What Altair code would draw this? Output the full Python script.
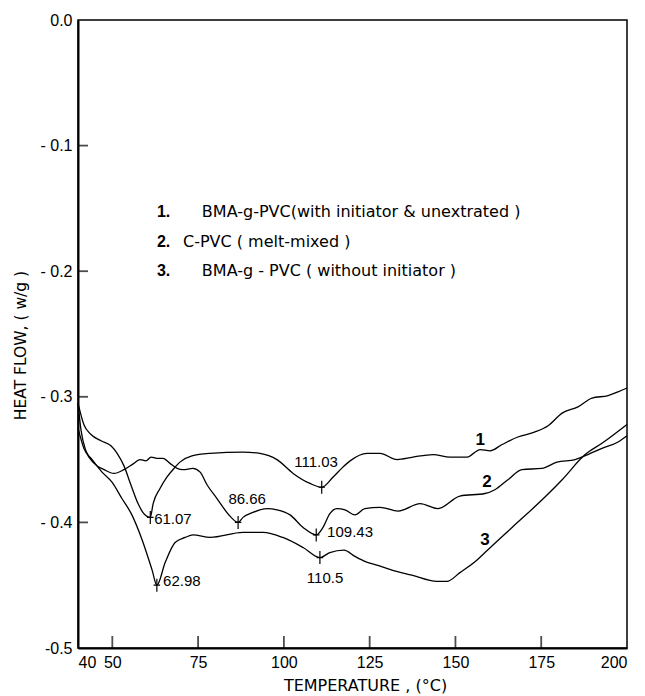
import altair as alt
import pandas as pd

# ---------------- data ----------------
# Curve 1: BMA-g-PVC (with initiator & unextracted)
x1 = [40.0, 41.7, 43.8, 46.7, 49.6, 51.4, 53.4, 55.4, 57.5, 58.9, 61.07, 61.9, 63.9, 65.9, 68.3, 69.7,
      73.2, 78.5, 88.1, 93.0, 98.0, 102.7, 107.6, 111.03, 114.3, 117.2, 119.3, 124.2, 128.0, 133.0,
      137.6, 143.5, 148.4, 153.4, 157.2, 160.1, 163.6, 168.2, 173.2, 177.0, 181.1, 185.7, 189.8,
      194.5, 197.4, 200.0]
y1 = [-0.305, -0.322, -0.330, -0.335, -0.339, -0.345, -0.355, -0.370, -0.385, -0.392, -0.396, -0.385,
      -0.373, -0.364, -0.356, -0.352, -0.347, -0.345, -0.344, -0.345, -0.350, -0.361, -0.369, -0.372,
      -0.364, -0.356, -0.351, -0.345, -0.345, -0.350, -0.348, -0.346, -0.348, -0.348, -0.342, -0.343,
      -0.338, -0.332, -0.328, -0.323, -0.313, -0.308, -0.301, -0.299, -0.296, -0.293]

# Curve 2: C-PVC (melt-mixed)
x2 = [40.0, 40.9, 42.3, 44.7, 47.6, 50.5, 53.4, 56.3, 58.1, 59.8, 61.3, 63.0, 64.8, 66.8, 68.9, 70.6,
      73.5, 75.6, 77.6, 80.5, 84.3, 86.66, 88.1, 91.0, 95.1, 98.0, 101.8, 105.6, 109.43, 111.4, 113.4,
      115.5, 117.8, 120.7, 123.6, 128.0, 133.3, 139.7, 144.9, 151.3, 158.6, 161.5, 165.3, 169.4,
      175.2, 179.6, 184.9, 188.6, 192.7, 197.4, 200.0]
y2 = [-0.305, -0.327, -0.343, -0.353, -0.358, -0.361, -0.358, -0.353, -0.350, -0.351, -0.348, -0.349,
      -0.349, -0.353, -0.357, -0.358, -0.357, -0.360, -0.370, -0.381, -0.395, -0.400, -0.396, -0.392,
      -0.389, -0.390, -0.394, -0.404, -0.410, -0.404, -0.393, -0.389, -0.390, -0.394, -0.389, -0.388,
      -0.391, -0.385, -0.389, -0.379, -0.377, -0.374, -0.366, -0.358, -0.357, -0.352, -0.350, -0.346,
      -0.341, -0.336, -0.331]

# Curve 3: BMA-g-PVC (without initiator)
x3 = [40.0, 41.7, 44.1, 47.0, 49.9, 52.8, 55.7, 58.7, 61.6, 62.98, 65.4, 68.3, 71.2, 73.5, 78.5, 88.1,
      93.9, 99.7, 105.6, 110.5, 113.4, 117.5, 120.7, 123.6, 127.1, 131.5, 137.3, 144.6, 147.5, 151.3,
      156.3, 158.6, 166.5, 174.1, 181.1, 187.8, 192.7, 200.0]
y3 = [-0.325, -0.341, -0.350, -0.360, -0.368, -0.381, -0.394, -0.414, -0.438, -0.450, -0.432, -0.416,
      -0.412, -0.410, -0.412, -0.408, -0.408, -0.412, -0.420, -0.428, -0.424, -0.422, -0.427, -0.431,
      -0.434, -0.438, -0.442, -0.447, -0.447, -0.440, -0.430, -0.424, -0.404, -0.385, -0.366, -0.346,
      -0.337, -0.322]

# marked peaks
peak_x = [61.07, 62.98, 86.66, 109.43, 110.5, 111.03]
peak_y = [-0.396, -0.450, -0.400, -0.410, -0.428, -0.372]
peak_text = ["61.07", "62.98", "86.66", "109.43", "110.5", "111.03"]
peak_text_x = [62.2, 64.8, 89.3, 112.6, 112.0, 109.4]
peak_text_y = [-0.397, -0.447, -0.381, -0.408, -0.444, -0.352]
peak_align = ["left", "left", "center", "left", "center", "center"]

# curve numbers near right end
num_text = ["1", "2", "3"]
num_x = [157.2, 159.2, 158.6]
num_y = [-0.334, -0.368, -0.414]

# legend block
leg_num = ["1.", "2.", "3."]
leg_text = ["BMA-g-PVC(with initiator & unextrated )", "C-PVC  ( melt-mixed )",
            "BMA-g - PVC ( without initiator )"]
leg_num_x = [63.0, 63.0, 63.0]
leg_text_x = [76.1, 70.6, 76.1]
leg_y = [-0.153, -0.177, -0.200]

x_ticks = [40, 50, 75, 100, 125, 150, 175, 200]
y_ticks = [0.0, -0.1, -0.2, -0.3, -0.4, -0.5]
x_inner_ticks = [50, 75, 100, 125, 150, 175]
y_inner_ticks = [-0.1, -0.2, -0.3, -0.4]

# ---------------- build tables ----------------
rows = []
for name, xs, ys in (("1", x1, y1), ("2", x2, y2), ("3", x3, y3)):
    for a, b in zip(xs, ys):
        rows.append({"series": name, "x": a, "y": b})
curves = pd.DataFrame(rows)

peaks = pd.DataFrame({"x": peak_x, "y": peak_y})
plabels = pd.DataFrame({"x": peak_text_x, "y": peak_text_y, "t": peak_text, "align": peak_align})
nums = pd.DataFrame({"x": num_x, "y": num_y, "t": num_text})
leg_n = pd.DataFrame({"x": leg_num_x, "y": leg_y, "t": leg_num})
leg_t = pd.DataFrame({"x": leg_text_x, "y": leg_y, "t": leg_text})
xtk = pd.DataFrame({"x": x_inner_ticks})
ytk = pd.DataFrame({"y": y_inner_ticks})

W, H = 549, 628
FONT = "Liberation Sans"
FONT2 = "DejaVu Sans"

xs_ = alt.Scale(domain=[40, 200], nice=False, zero=False)
ys_ = alt.Scale(domain=[-0.5, 0.0], nice=False, zero=False)

x_axis = alt.Axis(values=x_ticks, title="TEMPERATURE , (°C)", ticks=False, grid=False,
                  labelFlush=True, labelPadding=6, labelFontSize=16, labelFont=FONT,
                  labelColor="black", titleFont=FONT2, titleFontSize=16, titleFontWeight="normal",
                  titleColor="black", titleX=287, titleY=37, titleBaseline="middle",
                  domainColor="black", domainWidth=2)
y_axis = alt.Axis(values=y_ticks, title="HEAT FLOW, ( w/g )", ticks=False, grid=False,
                  labelExpr="datum.value == 0 ? '0.0' : (datum.value <= -0.5 ? '-0.5' : '- ' + format(-datum.value, '.1f'))",
                  labelPadding=6, labelFontSize=16, labelFont=FONT, labelColor="black",
                  titleFont=FONT2, titleFontSize=15.5, titleFontWeight="normal", titleColor="black",
                  titleX=-58, titleY=325, titleAngle=270, titleAlign="center", titleBaseline="middle",
                  domainColor="black", domainWidth=2)

X = alt.X("x:Q", scale=xs_, axis=x_axis)
Y = alt.Y("y:Q", scale=ys_, axis=y_axis)

lines = alt.Chart(curves).mark_line(color="black", strokeWidth=1.3, interpolate="monotone").encode(
    x=X, y=Y, detail="series:N")

xt = alt.Chart(xtk).mark_tick(color="black", thickness=1.8, size=12, orient="vertical").encode(
    x=X, y=alt.value(H - 6))

yt = alt.Chart(ytk).mark_tick(color="black", thickness=1.8, size=10, orient="horizontal").encode(
    y=Y, x=alt.value(5))

crosses = alt.Chart(peaks).mark_point(
    shape="M-0.5,0L0.5,0M0,-1L0,1", size=169, filled=False, stroke="black",
    strokeWidth=1.2, opacity=1).encode(x=X, y=Y)

pl_left = alt.Chart(plabels).transform_filter("datum.align == 'left'").mark_text(
    align="left", baseline="middle", font=FONT, fontSize=15, color="black").encode(
    x=X, y=Y, text="t:N")
pl_center = alt.Chart(plabels).transform_filter("datum.align == 'center'").mark_text(
    align="center", baseline="middle", font=FONT, fontSize=15, color="black").encode(
    x=X, y=Y, text="t:N")

num_marks = alt.Chart(nums).mark_text(
    align="center", baseline="middle", font=FONT, fontSize=17, fontWeight="bold", color="black").encode(
    x=X, y=Y, text="t:N")

leg_num_marks = alt.Chart(leg_n).mark_text(
    align="left", baseline="middle", font=FONT, fontSize=16, fontWeight="bold", color="black").encode(
    x=X, y=Y, text="t:N")

leg_text_marks = alt.Chart(leg_t).mark_text(
    align="left", baseline="middle", font=FONT2, fontSize=16, color="black").encode(
    x=X, y=Y, text="t:N")

chart = alt.layer(
    lines, xt, yt, crosses, pl_left, pl_center, num_marks, leg_num_marks, leg_text_marks
).properties(
    width=W, height=H,
    padding={"left": 78, "top": 20, "right": 18, "bottom": 48},
    autosize=alt.AutoSizeParams(type="none"),
    background="white",
).configure_view(stroke="black", strokeWidth=1.5)

chart.save("out.html", embed_options={"renderer": "svg", "actions": False})
